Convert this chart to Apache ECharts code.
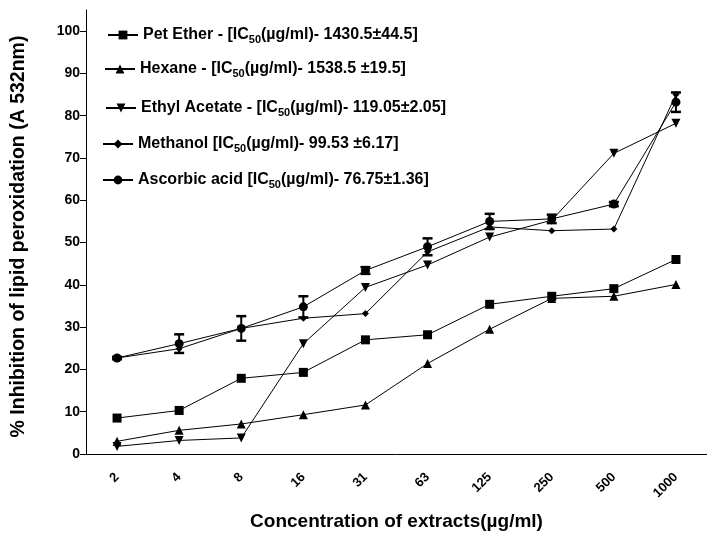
<!DOCTYPE html>
<html>
<head>
<meta charset="utf-8">
<script src="https://cdn.jsdelivr.net/npm/echarts@6/dist/echarts.min.js"></script>
<style>html,body{margin:0;padding:0;background:#fff;}#c{width:707px;height:536px;}</style>
</head>
<body>
<div id="c"></div>
<script>
var categories = ['2','4','8','16','31','63','125','250','500','1000'];
var petEther  = [8.5, 10.3, 17.9, 19.3, 27.0, 28.2, 35.4, 37.3, 39.1, 46.0];
var hexane    = [3.0, 5.6, 7.1, 9.3, 11.6, 21.4, 29.5, 36.8, 37.3, 40.1];
var ethylAc   = [1.8, 3.2, 3.8, 26.1, 39.4, 44.7, 51.3, 55.3, 71.1, 78.2];
var methanol  = [22.7, 24.9, 29.7, 32.1, 33.2, 47.8, 53.7, 52.8, 53.2, 85.0];
var ascorbic  = [22.7, 26.1, 29.7, 34.8, 43.4, 49.0, 55.0, 55.6, 59.1, 83.2];
var ascorbicErr = [0.3, 2.2, 2.9, 2.5, 0.8, 2.0, 1.8, 1.0, 0.5, 2.3];
var yTicks = [0,10,20,30,40,50,60,70,80,90,100];
var legendNames = [
  {id:'pet', a:'Pet Ether - [IC', b:'(\u00b5g/ml)- 1430.5\u00b144.5]'},
  {id:'hex', a:'Hexane - [IC', b:'(\u00b5g/ml)- 1538.5 \u00b119.5]'},
  {id:'eth', a:'Ethyl Acetate - [IC', b:'(\u00b5g/ml)- 119.05\u00b12.05]'},
  {id:'met', a:'Methanol [IC', b:'(\u00b5g/ml)- 99.53 \u00b16.17]'},
  {id:'asc', a:'Ascorbic acid [IC', b:'(\u00b5g/ml)- 76.75\u00b11.36]'}
];

var FONT = 'Liberation Sans, Arial, sans-serif';
var chart = echarts.init(document.getElementById('c'));

function lineSeries(name, data, symbol, size, rotate) {
  return {
    name: name, type: 'line', data: data,
    symbol: symbol, symbolSize: size, symbolRotate: rotate || 0,
    showAllSymbol: true,
    lineStyle: {color: '#000', width: 1},
    itemStyle: {color: '#000'},
    emphasis: {disabled: true},
    animation: false, z: 3
  };
}

var legendCenters = [33, 67, 106, 142, 178];
var legendLefts = [107, 104, 105, 102, 102];
var legends = legendNames.map(function (l, i) {
  return {
    data: [l.id], left: legendLefts[i], top: legendCenters[i] - 6,
    padding: 0,
    itemWidth: 30, itemHeight: 11, orient: 'vertical',
    selectedMode: false,
    formatter: function () { return '{n|' + l.a + '}{s|50}{n|' + l.b + '}'; },
    textStyle: {
      rich: {
        n: {fontFamily: FONT, fontWeight: 'bold', fontSize: 16, color: '#000', lineHeight: 20},
        s: {fontFamily: FONT, fontWeight: 'bold', fontSize: 11, color: '#000', lineHeight: 20, verticalAlign: 'bottom', padding: [7,0,0,0]}
      }
    }
  };
});

var errData = ascorbic.map(function (v, i) { return [i, v - ascorbicErr[i], v + ascorbicErr[i]]; });

var option = {
  backgroundColor: '#fff',
  animation: false,
  legend: legends,
  grid: {left: 86, top: 10, width: 622, height: 447, containLabel: false},
  xAxis: {
    type: 'category', data: categories, boundaryGap: true,
    axisLine: {lineStyle: {color: '#000', width: 1}},
    axisTick: {alignWithLabel: true, length: 6, lineStyle: {color: '#000'}},
    axisLabel: {rotate: 45, margin: 21, color: '#000', fontFamily: FONT, fontWeight: 'bold', fontSize: 13},
    name: 'Concentration of extracts(\u00b5g/ml)', nameLocation: 'middle', nameGap: 58,
    nameTextStyle: {color: '#000', fontFamily: FONT, fontWeight: 'bold', fontSize: 19},
    splitLine: {show: false}
  },
  yAxis: {
    type: 'value', min: 0, max: 105,
    axisLine: {show: true, lineStyle: {color: '#000', width: 1}},
    axisTick: {show: true, length: 6, customValues: yTicks, lineStyle: {color: '#000'}},
    axisLabel: {customValues: yTicks, margin: 6, color: '#000', fontFamily: FONT, fontWeight: 'bold', fontSize: 14},
    splitLine: {show: false},
    name: '% Inhibition of lipid peroxidation (A 532nm)', nameLocation: 'middle', nameGap: 57,
    nameTextStyle: {color: '#000', fontFamily: FONT, fontWeight: 'bold', fontSize: 19.5, padding: [0, 0, 0, -9]}
  },
  series: [
    lineSeries('pet', petEther, 'rect', 9),
    lineSeries('hex', hexane, 'triangle', 9),
    lineSeries('eth', ethylAc, 'triangle', 9, 180),
    lineSeries('met', methanol, 'diamond', 7),
    lineSeries('asc', ascorbic, 'circle', 9),
    {
      type: 'custom', data: errData, encode: {x: 0, y: [1, 2]}, z: 4,
      renderItem: function (params, api) {
        var lo = api.coord([api.value(0), api.value(1)]);
        var hi = api.coord([api.value(0), api.value(2)]);
        var w = 5;
        var st = {stroke: '#000', lineWidth: 2};
        var cap = {stroke: '#000', lineWidth: 2.5};
        return {type: 'group', children: [
          {type: 'line', shape: {x1: lo[0], y1: lo[1], x2: hi[0], y2: hi[1]}, style: st},
          {type: 'line', shape: {x1: lo[0]-w, y1: lo[1], x2: lo[0]+w, y2: lo[1]}, style: cap},
          {type: 'line', shape: {x1: hi[0]-w, y1: hi[1], x2: hi[0]+w, y2: hi[1]}, style: cap}
        ]};
      }
    }
  ]
};
chart.setOption(option);
</script>
</body>
</html>
